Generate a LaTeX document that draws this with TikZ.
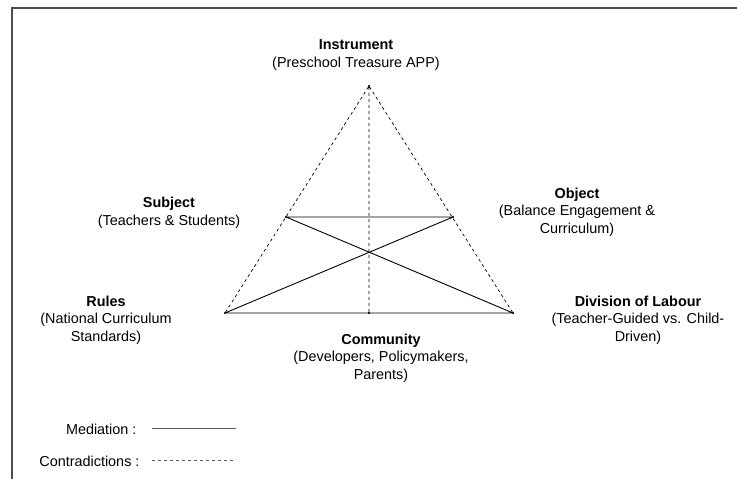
\documentclass[tikz,border=0pt]{standalone}
\usepackage{fontspec}
\setmainfont{Liberation Sans}
\begin{document}
\begin{tikzpicture}[x=1pt,y=-1pt,
  dot/.style={draw,shape=circle,fill=black,scale=.2},
  lbl/.style={align=center,font=\fontsize{14.4}{17.6}\selectfont},
  contra/.style={line width=.7pt,dash pattern=on 3pt off 3pt},
  medi/.style={line width=.9pt}]
\useasboundingbox (0,0) rectangle (737,479);
\draw[gray!60!black,line width=1.2pt] (737,8) -- (12,8) -- (12,479);
\draw (369,86) node[dot](ins){}
(286,217) node[dot](sub){}
(453,217) node[dot](obj){}
(225,313) node[dot](rul){}
(513,313) node[dot](div){}
(369,313) node[dot](com){};
\draw[medi] (sub) -- (obj) (sub) -- (div) (obj) -- (rul) (rul) -- (div);
\draw[contra] (ins) -- (rul) (ins) -- (div) (ins) -- (com);
\node[lbl] (insl) at (356,55) {\textbf{Instrument}\\(Preschool Treasure APP)};
\node[lbl] (subl) at (169,213) {\textbf{Subject}\\(Teachers \& Students)};
\node[lbl] (objl) at (577,212) {\textbf{Object}\\(Balance Engagement \&\\Curriculum)};
\node[lbl] (rull) at (106,320) {\textbf{Rules}\\(National Curriculum\\Standards)};
\node[lbl] (divl) at (638,320) {\textbf{Division of Labour}\\(Teacher-Guided vs. Child-\\Driven)};
\node[lbl] (coml) at (381,358) {\textbf{Community}\\(Developers, Policymakers,\\Parents)};
% legend
\node[lbl,anchor=east] (med) at (140,429) {Mediation :};
\node[lbl,anchor=east] (con) at (143,461) {Contradictions :};
\coordinate (meda) at (152,428); \coordinate (medb) at (236,428);
\coordinate (cona) at (152,460); \coordinate (conb) at (236,460);
\draw[medi,gray!70!black] (meda) -- (medb);
\draw[contra,gray!70!black] (cona) -- (conb);
\end{tikzpicture}
\end{document}
